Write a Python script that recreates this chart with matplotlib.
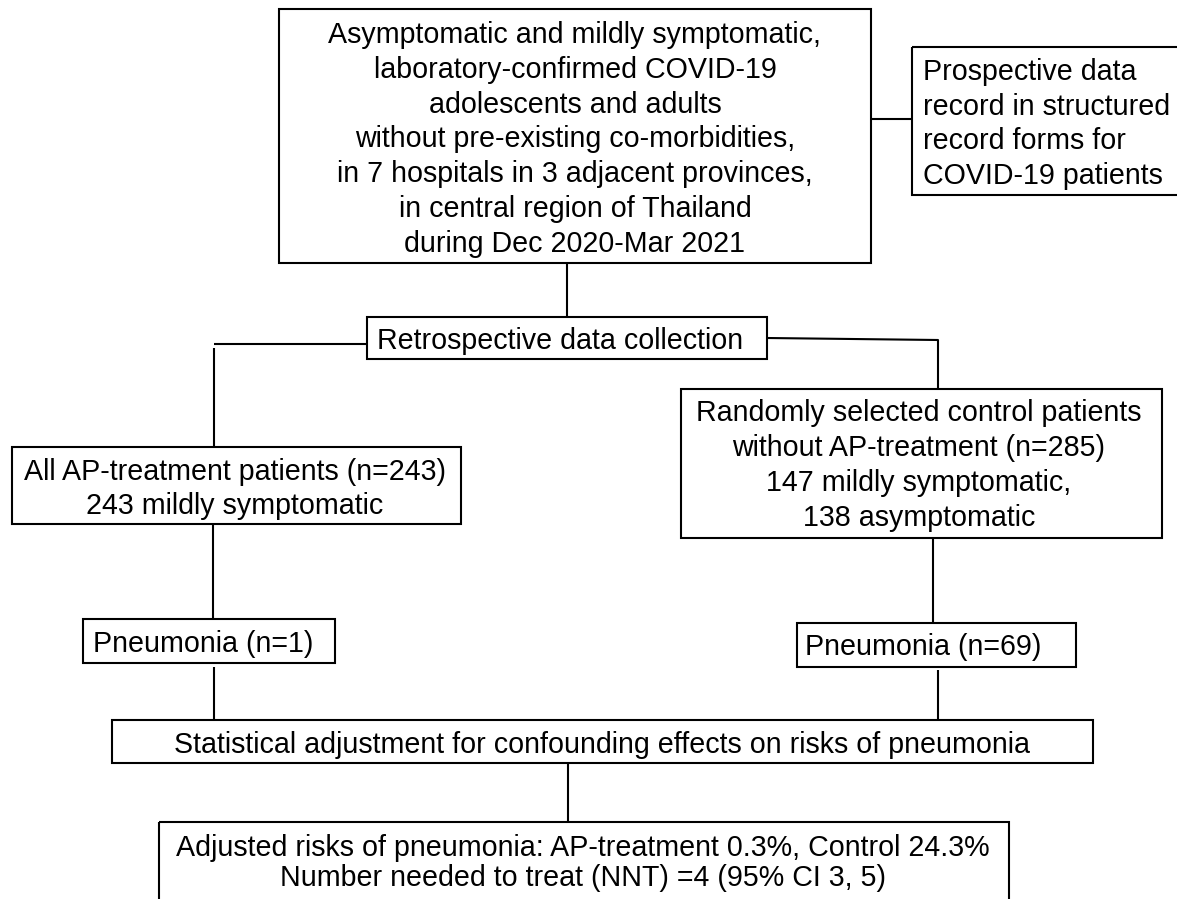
import matplotlib
matplotlib.use("Agg")
import matplotlib.pyplot as plt
from matplotlib.patches import Rectangle

plt.rcParams['font.family'] = ['Liberation Sans', 'DejaVu Sans']

# ---------------- content (texts of the flowchart) ----------------
population_lines = ["Asymptomatic and mildly symptomatic,",
                    "laboratory-confirmed COVID-19",
                    "adolescents and adults",
                    "without pre-existing co-morbidities,",
                    "in 7 hospitals in 3 adjacent provinces,",
                    "in central region of Thailand",
                    "during Dec 2020-Mar 2021"]
prospective_lines = ["Prospective data", "record in structured",
                     "record forms for", "COVID-19 patients"]
collection_lines = ["Retrospective data collection"]
ap_lines = ["All AP-treatment patients (n=243)", "243 mildly symptomatic"]
control_lines = ["Randomly selected control patients",
                 "without AP-treatment (n=285)",
                 "147 mildly symptomatic,",
                 "138 asymptomatic"]
pneu_ap_lines = ["Pneumonia (n=1)"]
pneu_ctrl_lines = ["Pneumonia (n=69)"]
adjust_lines = ["Statistical adjustment for confounding effects on risks of pneumonia"]
result_lines = ["Adjusted risks of pneumonia: AP-treatment 0.3%, Control 24.3%",
                "Number needed to treat (NNT) =4 (95% CI 3, 5)"]

# ---------------- layout (pixel coordinates, y downward) ----------------
W, H = 1177, 899
FS = 20.6
LW = 1.5

# name: (texts, box x0, y0, x1, y1, text x, ha, first baseline, pitch)
layout = [
    (population_lines, 279, 9, 871, 263, 575, 'center', 43, 34.8),
    (prospective_lines, 912, 47, 1195, 195, 923, 'left', 80, 34.7),
    (collection_lines, 367, 317, 767, 359, 560, 'center', 349, 0),
    (ap_lines, 12, 447, 461, 524, 235, 'center', 480, 34),
    (control_lines, 681, 389, 1162, 538, 919, 'center', 421, 35),
    (pneu_ap_lines, 83, 619, 335, 663, 93, 'left', 652, 0),
    (pneu_ctrl_lines, 797, 623, 1076, 667, 805, 'left', 655, 0),
    (adjust_lines, 112, 720, 1093, 763, 602, 'center', 753, 0),
    (result_lines, 159, 822, 1009, 915, 583, 'center', 856, 30),
]

connectors = [
    [(871, 119), (912, 119)],
    [(567, 263), (567, 317)],
    [(367, 344), (214, 344)],
    [(214, 348), (214, 447)],
    [(767, 338), (938, 340), (938, 389)],
    [(213, 524), (213, 619)],
    [(214, 667), (214, 720)],
    [(933, 538), (933, 623)],
    [(938, 670), (938, 720)],
    [(568, 763), (568, 822)],
]

fig = plt.figure(figsize=(W / 100, H / 100), dpi=100)
ax = fig.add_axes([0, 0, 1, 1])
ax.set_xlim(0, W)
ax.set_ylim(H, 0)
ax.axis('off')

for pts in connectors:
    xs = [p[0] for p in pts]
    ys = [p[1] for p in pts]
    ax.plot(xs, ys, color='black', lw=LW, solid_capstyle='butt')

for texts, x0, y0, x1, y1, tx, ha, b0, pitch in layout:
    ax.add_patch(Rectangle((x0, y0), x1 - x0, y1 - y0, fill=False,
                           edgecolor='black', lw=LW, joinstyle='miter'))
    for i, s in enumerate(texts):
        ax.text(tx, b0 + i * pitch, s, ha=ha, va='baseline', fontsize=FS,
                color='black')

fig.savefig('out.png', dpi=100, facecolor='white')
